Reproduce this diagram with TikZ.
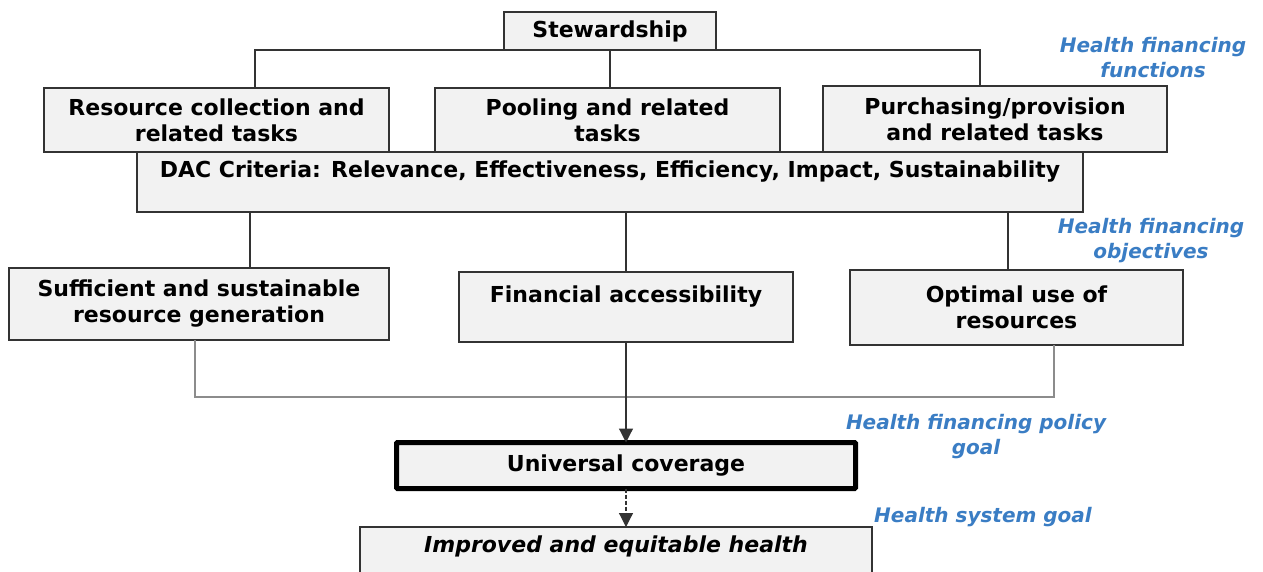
\documentclass[tikz,border=0pt]{standalone}
\usepackage{fontspec}
\setmainfont{DejaVu Sans}
\usetikzlibrary{arrows.meta,calc}
\definecolor{boxfill}{HTML}{F2F2F2}
\definecolor{edge}{HTML}{333333}
\definecolor{busgray}{HTML}{8C8C8C}
\definecolor{tagblue}{HTML}{3A7DC4}
\begin{document}
\begin{tikzpicture}[x=1pt,y=-1pt,
  box/.style={draw=edge, fill=boxfill, line width=1.4pt, align=center,
    font=\fontsize{22}{26}\selectfont\bfseries, inner sep=1pt, outer sep=0pt,
    anchor=north west},
  sz/.style 2 args={minimum width=#1pt, minimum height=#2pt},
  conn/.style={draw=edge, line width=1.2pt},
  bus/.style={draw=busgray, line width=2pt},
  arr/.style={draw=edge, line width=1.2pt, -{Triangle[width=14pt,length=14pt]}},
  tag/.style={text=tagblue, align=center,
    font=\fontsize{20}{25}\selectfont\bfseries\itshape}]
\clip (0,0) rectangle (1263,571);
\fill[white] (0,0) rectangle (1263,571);

% health financing functions
\node[box, sz={212}{38}] (stew) at (504,12) {\raisebox{-2pt}{Stewardship}};
\node[box, sz={345}{64}] (res) at (44,88) {Resource collection and\\related tasks};
\node[box, sz={345}{64}] (pool) at (435,88) {Pooling and related\\tasks};
\node[box, sz={344}{66}] (pur) at (823,86) {Purchasing/provision\\and related tasks};

% evaluation criteria
\node[box, sz={946}{60}] (dac) at (137,152)
  {DAC Criteria: Relevance, Effectiveness, Efficiency, Impact, Sustainability\\\mbox{}};

% health financing objectives
\node[box, sz={380}{72}] (suf) at (9,268) {Sufficient and sustainable\\resource generation};
\node[box, sz={334}{70}] (fin) at (459,272) {Financial accessibility\\\mbox{}};
\node[box, sz={333}{75}] (opt) at (850,270) {Optimal use of\\resources};

% goals
\node[box, sz={459}{46}, line width=5pt, draw=black, rounded corners=1pt] (uc) at (396.5,442.5) {Universal coverage};
\node[box, sz={512}{60}, font=\fontsize{22}{26}\selectfont\bfseries\itshape] (imp) at (360,527)
  {Improved and equitable health\\\mbox{}};

% stewardship to the functions
\coordinate (f1) at ($(res.north)+(38.5,0)$);
\coordinate (f3) at ($(pur.north)+(-15,0)$);
\draw[conn] (f1) |- (stew.south) -| (f3);
\draw[conn] (stew.south) -- (stew.south |- pool.north);

% criteria to the objectives
\coordinate (o1) at ($(suf.north)+(51,0)$);
\coordinate (o3) at ($(opt.north)+(-8.5,0)$);
\draw[conn] (o1 |- dac.south) -- (o1);
\draw[conn] (fin.north |- dac.south) -- (fin.north);
\draw[conn] (o3 |- dac.south) -- (o3);

% objectives to universal coverage
\coordinate (busmid) at (625,397);
\coordinate (optout) at ($(opt.south)+(37.5,0)$);
\draw[bus] ($(suf.south)+(-4,0)$) |- (busmid) -| (optout);
\draw[arr] (fin.south) -- (uc.north);
\draw[arr, dash pattern=on 4pt off 2pt] (uc.south) -- (uc.south |- imp.north);

% level labels
\node[tag] (t1) at (1153,58) {Health financing\\functions};
\node[tag] (t2) at (1151,241) {Health financing\\objectives};
\node[tag] (t3) at (976,437) {Health financing policy\\goal};
\node[tag] (t4) at (983,517) {Health system goal};
\end{tikzpicture}
\end{document}
